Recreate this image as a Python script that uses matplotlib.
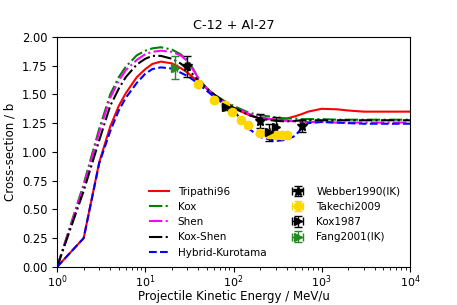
import numpy as np
import matplotlib
matplotlib.use("Agg")
import matplotlib.pyplot as plt

# energia (MeV/u) donde se evaluan los modelos
energy = [1, 2, 3, 4, 5, 6, 8, 10, 12, 15, 20, 25, 30, 35, 40, 50, 60, 80, 100,
          150, 200, 300, 400, 500, 600, 700, 1000, 1500, 2000, 3000, 5000, 10000]

tripathi96 = [0.0, 0.25, 0.91, 1.22, 1.40, 1.51, 1.65, 1.72, 1.765, 1.785, 1.77, 1.73,
              1.69, 1.645, 1.61, 1.55, 1.50, 1.43, 1.38, 1.32, 1.29, 1.28, 1.29, 1.31,
              1.33, 1.35, 1.375, 1.37, 1.36, 1.35, 1.35, 1.35]
kox = [0.0, 0.72, 1.20, 1.50, 1.65, 1.74, 1.84, 1.88, 1.90, 1.91, 1.89, 1.85,
       1.80, 1.72, 1.64, 1.55, 1.50, 1.44, 1.40, 1.34, 1.32, 1.30, 1.29, 1.29,
       1.285, 1.285, 1.285, 1.28, 1.28, 1.28, 1.28, 1.28]
shen = [0.0, 0.70, 1.17, 1.47, 1.62, 1.71, 1.80, 1.85, 1.87, 1.88, 1.87, 1.84,
        1.79, 1.71, 1.64, 1.55, 1.49, 1.43, 1.39, 1.33, 1.30, 1.28, 1.27, 1.265,
        1.26, 1.26, 1.26, 1.255, 1.255, 1.255, 1.255, 1.255]
kox_shen = [0.0, 0.66, 1.10, 1.40, 1.55, 1.65, 1.76, 1.81, 1.835, 1.835, 1.81, 1.77,
            1.72, 1.67, 1.62, 1.55, 1.50, 1.43, 1.385, 1.32, 1.29, 1.27, 1.265, 1.27,
            1.275, 1.275, 1.275, 1.275, 1.275, 1.275, 1.275, 1.275]
hybrid_kurotama = [0.0, 0.25, 0.90, 1.18, 1.36, 1.47, 1.60, 1.68, 1.72, 1.735, 1.725, 1.69,
                   1.66, 1.625, 1.59, 1.53, 1.48, 1.41, 1.36, 1.20, 1.13, 1.095, 1.105, 1.14,
                   1.21, 1.25, 1.26, 1.255, 1.25, 1.245, 1.245, 1.245]

# datos experimentales
webber_E = [30, 200, 600]
webber_sig = [1.745, 1.27, 1.225]
webber_err = [0.09, 0.06, 0.055]

takechi_E = [40, 60, 80, 95, 120, 145, 200, 250, 300, 350, 400]
takechi_sig = [1.59, 1.45, 1.41, 1.35, 1.28, 1.23, 1.165, 1.155, 1.15, 1.145, 1.145]
takechi_err = [0.02, 0.02, 0.02, 0.02, 0.02, 0.02, 0.02, 0.02, 0.02, 0.02, 0.02]

kox87_E = [83, 250, 300]
kox87_sig = [1.39, 1.17, 1.22]
kox87_err = [0.025, 0.075, 0.08]

fang_E = [21.5]
fang_sig = [1.73]
fang_err = [0.1]

plt.rcParams['font.size'] = 8.5

fig, ax = plt.subplots(figsize=(4.57, 3.05), dpi=100)
fig.subplots_adjust(left=0.125, right=0.897, bottom=0.125, top=0.879)

ax.plot(energy, tripathi96, '-', color='red', lw=1.5, label='Tripathi96')
ax.plot(energy, kox, '-.', color='green', lw=1.5, label='Kox')
ax.plot(energy, shen, '-.', color='magenta', lw=1.5, label='Shen')
ax.plot(energy, kox_shen, '-.', color='black', lw=1.5, label='Kox-Shen')
ax.plot(energy, hybrid_kurotama, '--', color='blue', lw=1.5, label='Hybrid-Kurotama')

xe = lambda E: [0.05 * e for e in E]
ax.errorbar(webber_E, webber_sig, yerr=webber_err, xerr=xe(webber_E), fmt='*',
            color='black', ms=7, capsize=3, elinewidth=1, label='Webber1990(IK)')
ax.errorbar(takechi_E, takechi_sig, yerr=takechi_err, xerr=xe(takechi_E), fmt='o',
            color='gold', ms=6, capsize=3, elinewidth=1, label='Takechi2009')
ax.errorbar(kox87_E, kox87_sig, yerr=kox87_err, xerr=xe(kox87_E), fmt='>',
            color='black', ms=6, capsize=3, elinewidth=1, label='Kox1987')
ax.errorbar(fang_E, fang_sig, yerr=fang_err, xerr=xe(fang_E), fmt='>',
            color='forestgreen', ms=6, capsize=3, elinewidth=1, label='Fang2001(IK)')

ax.set_xscale('log')
ax.set_xlim(1, 1e4)
ax.set_ylim(0, 2.0)
ax.set_yticks(np.arange(0, 2.01, 0.25))
ax.tick_params(axis='x', which='major', pad=1.5, labelsize=8)
ax.tick_params(axis='y', labelsize=8.3)
ax.set_title('C-12 + Al-27', fontsize=9.2)
ax.set_xlabel('Projectile Kinetic Energy / MeV/u', fontsize=8.5)
ax.xaxis.set_label_coords(0.5, -0.1)
ax.set_ylabel('Cross-section / b', fontsize=8.5)

ax.legend(ncol=2, frameon=False, loc='lower right', fontsize=7.5)

plt.savefig('out.png', dpi=100)
